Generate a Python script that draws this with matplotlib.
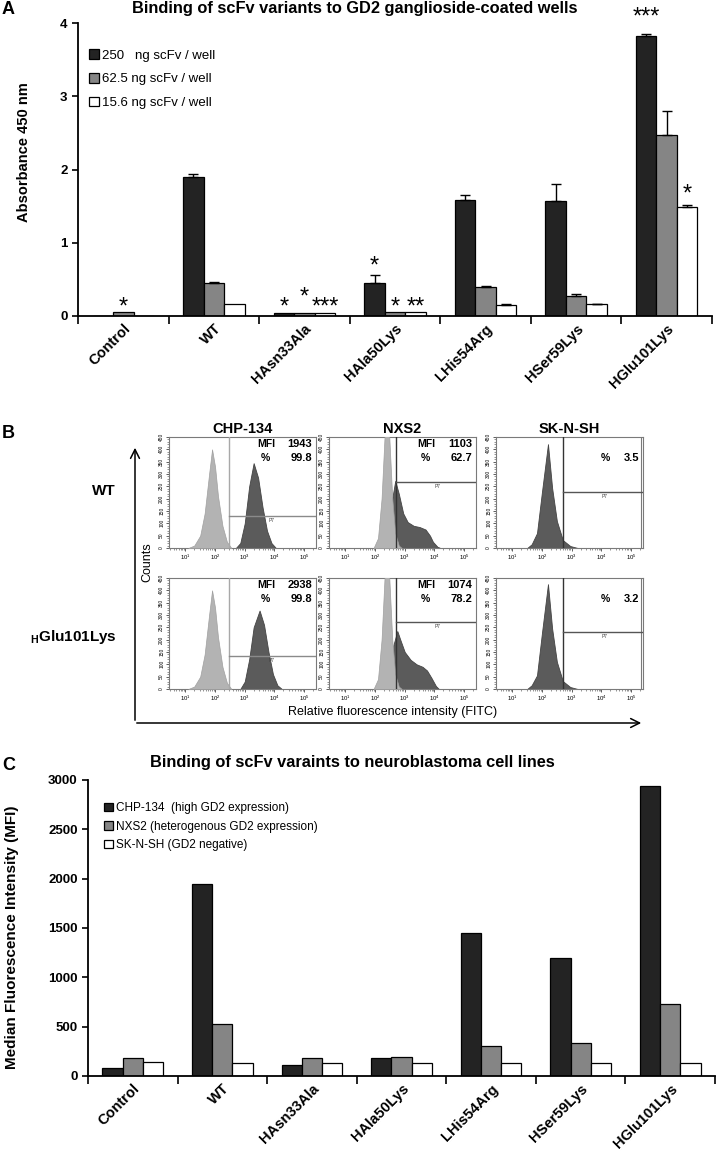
import numpy as np
import matplotlib
matplotlib.use("Agg")
import matplotlib.pyplot as plt
from matplotlib import font_manager

names = {f.name for f in font_manager.fontManager.ttflist}
NARROW = "Liberation Sans Narrow" if "Liberation Sans Narrow" in names else "Liberation Sans"
plt.rcParams["font.family"] = ["Liberation Sans", "DejaVu Sans"]
plt.rcParams["mathtext.fontset"] = "custom"
plt.rcParams["mathtext.rm"] = "Liberation Sans"
plt.rcParams["mathtext.bf"] = "Liberation Sans:bold"

# ---------------- data ----------------
variants = ["Control", "WT", "HAsn33Ala", "HAla50Lys", "LHis54Arg", "HSer59Lys", "HGlu101Lys"]

# panel A: ELISA absorbance at 450 nm
elisa_labels = ["250   ng scFv / well", "62.5 ng scFv / well", "15.6 ng scFv / well"]
abs_250 = [0.0, 1.90, 0.045, 0.455, 1.58, 1.57, 3.82]
abs_62 = [0.05, 0.445, 0.045, 0.06, 0.39, 0.27, 2.47]
abs_15 = [0.0, 0.16, 0.045, 0.055, 0.15, 0.16, 1.49]
err_250 = [0.0, 0.04, 0.0, 0.11, 0.07, 0.23, 0.03]
err_62 = [0.0, 0.025, 0.0, 0.0, 0.02, 0.03, 0.33]
err_15 = [0.0, 0.0, 0.0, 0.0, 0.015, 0.01, 0.02]
# significance marks: (variant index, series index, label, height)
stars = [(0, 1, "*", 0.195), (2, 0, "*", 0.195), (2, 1, "*", 0.33), (2, 2, "***", 0.195),
         (3, 0, "*", 0.76), (3, 1, "*", 0.195), (3, 2, "**", 0.195),
         (6, 0, "***", 4.15), (6, 2, "*", 1.74)]

# panel C: median fluorescence intensity
cell_labels = ["CHP-134  (high GD2 expression)", "NXS2 (heterogenous GD2 expression)",
               "SK-N-SH (GD2 negative)"]
mfi_chp = [78, 1943, 108, 186, 1446, 1196, 2938]
mfi_nxs = [186, 527, 186, 196, 307, 334, 730]
mfi_skn = [139, 132, 132, 135, 132, 132, 132]

# panel B: flow cytometry histograms, (log10 intensity, counts)
cell_lines = ["CHP-134", "NXS2", "SK-N-SH"]
row_names = ["WT", r"$_{\mathbf{H}}\mathbf{Glu101Lys}$"]
ctrl_chp = [(1.1, 0), (1.3, 10), (1.5, 50), (1.65, 140), (1.8, 300), (1.9, 400), (2.0, 330),
            (2.1, 210), (2.25, 90), (2.4, 25), (2.55, 0)]
wt_chp = [(2.7, 0), (2.85, 20), (3.0, 100), (3.15, 250), (3.3, 344), (3.45, 285), (3.6, 165),
          (3.75, 70), (3.9, 20), (4.05, 0)]
glu_chp = [(2.85, 0), (3.0, 30), (3.15, 120), (3.3, 250), (3.5, 318), (3.65, 260), (3.8, 150),
           (3.95, 60), (4.1, 15), (4.25, 0)]
ctrl_nxs = [(1.95, 0), (2.1, 40), (2.22, 200), (2.32, 450), (2.4, 540), (2.48, 450),
            (2.58, 200), (2.68, 60), (2.8, 10), (2.9, 0)]
wt_nxs = [(2.25, 0), (2.4, 60), (2.55, 180), (2.68, 272), (2.8, 220), (2.95, 140), (3.1, 105),
          (3.3, 90), (3.5, 85), (3.7, 75), (3.85, 50), (3.95, 25), (4.1, 5), (4.2, 0)]
glu_nxs = [(2.3, 0), (2.45, 60), (2.6, 170), (2.75, 235), (2.85, 200), (3.0, 150), (3.2, 118),
           (3.4, 100), (3.6, 90), (3.75, 75), (3.9, 45), (4.05, 12), (4.15, 0)]
wt_skn = [(1.5, 0), (1.65, 15), (1.83, 60), (2.0, 230), (2.2, 421), (2.34, 243), (2.5, 109),
          (2.7, 32), (2.95, 8), (3.2, 0)]
glu_skn = [(1.5, 0), (1.65, 15), (1.83, 55), (2.0, 230), (2.2, 425), (2.34, 245), (2.5, 110),
           (2.7, 32), (2.95, 8), (3.2, 0)]
hist_ctrl = [[ctrl_chp, ctrl_nxs, None], [ctrl_chp, ctrl_nxs, None]]
hist_test = [[wt_chp, wt_nxs, wt_skn], [glu_chp, glu_nxs, glu_skn]]
gate_x = [2.48, 2.72, 2.72]
gate_y = [[130, 267, 227], [133, 271, 231]]
p7_x = [3.9, 4.1, 4.1]
mfi_text = [["1943", "1103", None], ["2938", "1074", None]]
pct_text = [["99.8", "62.7", "3.5"], ["99.8", "78.2", "3.2"]]

# ---------------- figure ----------------
W, H = 717, 1154
fig = plt.figure(figsize=(W / 100, H / 100), dpi=100)
over = fig.add_axes([0, 0, 1, 1])
over.set_xlim(0, W)
over.set_ylim(H, 0)
over.axis("off")

DARK, MID = "#232323", "#858585"
bw = 0.226
xs = np.arange(len(variants))


def bar_panel(ax, series, colors, labels, ylim, yticks):
    for i, (vals, c, lab) in enumerate(zip(series, colors, labels)):
        ax.bar(xs + (i - 1) * bw, vals, bw, color=c, edgecolor="black", lw=0.9, label=lab, zorder=2)
    ax.set_xlim(-0.5, len(variants) - 0.5)
    ax.set_ylim(*ylim)
    ax.set_yticks(yticks)
    ax.set_xticks(np.arange(len(variants) + 1) - 0.5)
    ax.set_xticklabels([])
    ax.set_xticks(xs, minor=True)
    ax.set_xticklabels(variants, minor=True, rotation=45, ha="right", va="top",
                       rotation_mode="anchor", fontweight="bold", fontsize=10.5)
    ax.tick_params(axis="x", which="minor", length=0, pad=4)
    ax.tick_params(axis="x", which="major", length=6, width=1.2, direction="out")
    ax.tick_params(axis="y", length=4, width=1.2, labelsize=9.5)
    for t in ax.get_yticklabels():
        t.set_fontweight("bold")
    for s in ["top", "right"]:
        ax.spines[s].set_visible(False)
    for s in ["left", "bottom"]:
        ax.spines[s].set_linewidth(1.3)


def leg(ax, x, top, fs, spacing):
    ax.legend(loc="upper left", bbox_to_anchor=(x, top), frameon=False, borderpad=0,
              handlelength=0.75, handleheight=0.75, handletextpad=0.25, labelspacing=spacing,
              prop={"family": NARROW, "size": fs}, borderaxespad=0)


# panel A
axA = fig.add_axes([78 / W, 1 - 316 / H, 634 / W, 293 / H])
bar_panel(axA, [abs_250, abs_62, abs_15], [DARK, MID, "white"], elisa_labels, (0, 4), [0, 1, 2, 3, 4])
for i, (vals, err) in enumerate(zip([abs_250, abs_62, abs_15], [err_250, err_62, err_15])):
    for j in range(len(variants)):
        if err[j] > 0:
            axA.errorbar(xs[j] + (i - 1) * bw, vals[j], yerr=[[0], [err[j]]], fmt="none",
                         ecolor="black", elinewidth=1, capsize=3.5, capthick=1, zorder=3)
for j, i, lab, h in stars:
    axA.annotate(lab, (xs[j] + (i - 1) * bw, h), xytext=(0, -8.5), textcoords="offset points",
                 ha="center", va="baseline", fontsize=17, annotation_clip=False)
axA.set_ylabel("Absorbance 450 nm", fontweight="bold", fontsize=10.5)
axA.yaxis.set_label_coords(-0.074, 0.56)
leg(axA, 0.017, 0.91, 9.5, 0.85)
over.text(355, 9, "Binding of scFv variants to GD2 ganglioside-coated wells", ha="center",
          va="center", fontweight="bold", fontsize=11.8, family=NARROW)

# panel C
axC = fig.add_axes([88 / W, 1 - 1076 / H, 627 / W, 296 / H])
bar_panel(axC, [mfi_chp, mfi_nxs, mfi_skn], [DARK, MID, "white"], cell_labels, (0, 3000),
          [0, 500, 1000, 1500, 2000, 2500, 3000])
axC.set_ylabel("Median Fluorescence Intensity (MFI)", fontweight="bold", fontsize=11)
axC.yaxis.set_label_coords(-0.11, 0.47)
leg(axC, 0.026, 0.925, 8.5, 0.55)
over.text(352, 763, "Binding of scFv varaints to neuroblastoma cell lines", ha="center",
          va="center", fontweight="bold", fontsize=11.8, family=NARROW)

# panel B
col_left = [169, 329, 496]
row_top = [437, 578]
hw, hh = 147, 111
for r in range(2):
    for c in range(3):
        ax = fig.add_axes([col_left[c] / W, 1 - (row_top[r] + hh) / H, hw / W, hh / H])
        ax.set_xlim(0.45, 5.4)
        ax.set_ylim(0, 450)
        test = np.array(hist_test[r][c])
        ax.fill_between(test[:, 0], test[:, 1], color="#5b5b5b", lw=0.6, edgecolor="#444444", zorder=2)
        if hist_ctrl[r][c] is not None:
            ctrl = np.array(hist_ctrl[r][c])
            ax.fill_between(ctrl[:, 0], ctrl[:, 1], color="#b3b3b3", lw=0.5, edgecolor="#a0a0a0", zorder=3)
        gcol = "#a8a8a8" if c == 0 else "#333333"
        ax.plot([gate_x[c], gate_x[c]], [0, 450], color=gcol, lw=1, zorder=4)
        ax.plot([gate_x[c], 5.4], [gate_y[r][c], gate_y[r][c]], color="#8a8a8a" if c == 0 else "#555555",
                lw=1, zorder=4)
        ax.text(p7_x[c], gate_y[r][c] - 8, "P7", fontsize=3.5, ha="center", va="top", color="#444444")
        if mfi_text[r][c] is not None:
            ax.text(0.6, 0.935, "MFI", transform=ax.transAxes, fontsize=7.5, fontweight="bold",
                    va="center")
            ax.text(0.975, 0.935, mfi_text[r][c], transform=ax.transAxes, fontsize=8,
                    fontweight="bold", va="center", ha="right")
            ax.text(0.625, 0.81, "%", transform=ax.transAxes, fontsize=7.5, fontweight="bold", va="center")
        else:
            ax.text(0.715, 0.81, "%", transform=ax.transAxes, fontsize=7.5, fontweight="bold", va="center")
            ax.axvline(5.33, color="#7a7a7a", lw=0.8)
        ax.text(0.975, 0.81, pct_text[r][c], transform=ax.transAxes, fontsize=8,
                fontweight="bold", va="center", ha="right")
        ax.set_xticks([1, 2, 3, 4, 5])
        ax.set_xticklabels([r"$10^{%d}$" % k for k in range(1, 6)], fontsize=4.3)
        ax.set_xticks([d + np.log10(k) for d in range(0, 6) for k in range(2, 10)
                       if 0.45 < d + np.log10(k) < 5.4], minor=True)
        ax.set_yticks(np.arange(0, 451, 50))
        ax.set_yticklabels([str(v) for v in range(0, 451, 50)], fontsize=3.5, rotation=90, va="center")
        ax.set_yticks(np.arange(0, 451, 10), minor=True)
        ax.tick_params(which="major", length=2.5, width=0.6, pad=1, color="#444444")
        ax.tick_params(which="minor", length=1.5, width=0.4, color="#444444")
        for s in ax.spines.values():
            s.set_color("#7a7a7a")
            s.set_linewidth(0.8)
        if r == 0:
            ax.set_title(cell_lines[c], fontweight="bold", fontsize=10.5, pad=3)

over.annotate("", xy=(135, 445), xytext=(135, 723),
              arrowprops=dict(arrowstyle="->", lw=1.1, mutation_scale=16, color="black"))
over.annotate("", xy=(644, 723), xytext=(134, 723),
              arrowprops=dict(arrowstyle="->", lw=1.1, mutation_scale=16, color="black"))
over.text(147, 562, "Counts", rotation=90, ha="center", va="center", fontsize=9)
over.text(393, 712, "Relative fluorescence intensity (FITC)", ha="center", va="center", fontsize=9)
over.text(116, 491, row_names[0], ha="right", va="center", fontweight="bold", fontsize=11)
over.text(117, 637, row_names[1], ha="right", va="center", fontsize=11)

over.text(2, 9, "A", fontweight="bold", fontsize=13, va="center")
over.text(2, 433, "B", fontweight="bold", fontsize=13, va="center")
over.text(2, 765, "C", fontweight="bold", fontsize=13, va="center")

fig.savefig("out.png", dpi=100)
